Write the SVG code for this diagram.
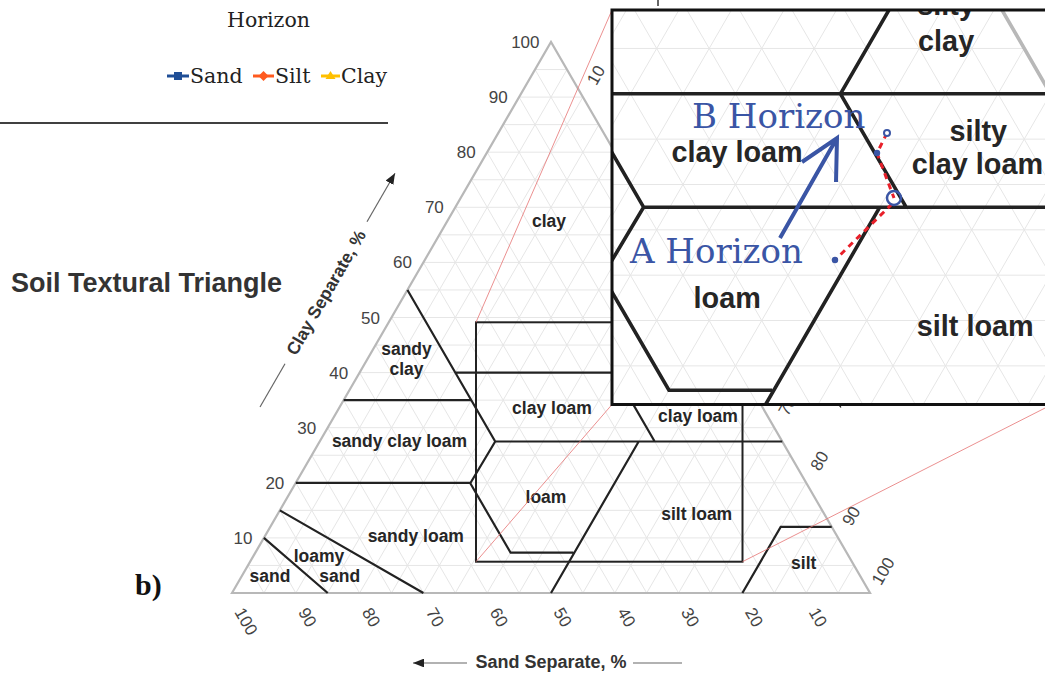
<svg xmlns="http://www.w3.org/2000/svg" xmlns:xlink="http://www.w3.org/1999/xlink" width="1045" height="675" viewBox="0 0 1045 675">
<defs>
<style>
.grid{fill:none;stroke:#e6e6e6;stroke-width:1;vector-effect:non-scaling-stroke}
.edge{fill:none;stroke:#b8b8b8;stroke-width:2.2}
.bnd{fill:none;stroke:#222;stroke-width:2.2}
.zl{font-family:"Liberation Sans",Arial,sans-serif;font-weight:bold;font-size:17.5px;fill:#262626;text-anchor:middle}
.num{font-family:"Liberation Sans",Arial,sans-serif;font-size:17px;fill:#444}
.ttl{font-family:"Liberation Sans",Arial,sans-serif;font-weight:bold;font-size:17.5px;fill:#333}
.ser{font-family:"DejaVu Serif","Liberation Serif",serif;font-size:20.5px;fill:#222}
.hz{font-family:"DejaVu Serif","Liberation Serif",serif;font-size:34px;fill:#3a55a5}
.red{fill:none;stroke:#e67373;stroke-width:0.8}
.axl{fill:none;stroke:#666;stroke-width:1.2}
</style>
<marker id="ah" viewBox="0 0 10 8" refX="10" refY="4" markerWidth="11" markerHeight="8.8" markerUnits="userSpaceOnUse" orient="auto"><path d="M0 0L10 4L0 8z" fill="#222"/></marker>
<clipPath id="insetClip" clipPathUnits="userSpaceOnUse"><rect x="612" y="10" width="440" height="394.5"/></clipPath>
</defs>
<rect x="0" y="0" width="1045" height="675" fill="#fff"/>

<g id="chart-fragment">
<text class="ser" x="227" y="27">Horizon</text>
<line x1="167" y1="76" x2="189" y2="76" stroke="#1f4e96" stroke-width="3"/>
<rect x="174" y="72" width="8" height="8" fill="#1f4e96"/>
<text class="ser" x="190" y="83">Sand</text>
<line x1="253" y1="76" x2="274" y2="76" stroke="#ff5a1f" stroke-width="3"/>
<path d="M263.5 71L268.5 76L263.5 81L258.5 76z" fill="#ff5a1f"/>
<text class="ser" x="275" y="83">Silt</text>
<line x1="321" y1="76" x2="340" y2="76" stroke="#ffc000" stroke-width="3"/>
<path d="M330.5 71L335.5 79L325.5 79z" fill="#ffc000"/>
<text class="ser" x="341" y="83">Clay</text>
<line x1="0" y1="123" x2="388" y2="123" stroke="#404040" stroke-width="2"/>
<line x1="658" y1="0" x2="658" y2="6" stroke="#333" stroke-width="1.5"/>
</g>

<g id="triangle">
<path class="grid" d="M247.95 565.45H854.05M263.9 537.9H838.1M279.85 510.35H822.15M295.8 482.8H806.2M311.75 455.25H790.25M327.7 427.7H774.3M343.65 400.15H758.35M359.6 372.6H742.4M375.55 345.05H726.45M391.5 317.5H710.5M407.45 289.95H694.55M423.4 262.4H678.6M439.35 234.85H662.65M455.3 207.3H646.7M471.25 179.75H630.75M487.2 152.2H614.8M503.15 124.65H598.85M519.1 97.1H582.9M535.05 69.55H566.95
M263.9 593L247.95 565.45M295.8 593L263.9 537.9M327.7 593L279.85 510.35M359.6 593L295.8 482.8M391.5 593L311.75 455.25M423.4 593L327.7 427.7M455.3 593L343.65 400.15M487.2 593L359.6 372.6M519.1 593L375.55 345.05M551 593L391.5 317.5M582.9 593L407.45 289.95M614.8 593L423.4 262.4M646.7 593L439.35 234.85M678.6 593L455.3 207.3M710.5 593L471.25 179.75M742.4 593L487.2 152.2M774.3 593L503.15 124.65M806.2 593L519.1 97.1M838.1 593L535.05 69.55
M263.9 593L566.95 69.55M295.8 593L582.9 97.1M327.7 593L598.85 124.65M359.6 593L614.8 152.2M391.5 593L630.75 179.75M423.4 593L646.7 207.3M455.3 593L662.65 234.85M487.2 593L678.6 262.4M519.1 593L694.55 289.95M551 593L710.5 317.5M582.9 593L726.45 345.05M614.8 593L742.4 372.6M646.7 593L758.35 400.15M678.6 593L774.3 427.7M710.5 593L790.25 455.25M742.4 593L806.2 482.8M774.3 593L822.15 510.35M806.2 593L838.1 537.9M838.1 593L854.05 565.45"/>
<path class="edge" d="M232 593L551 42L870 593z"/>
<path class="bnd" d="M327.7 593L263.9 537.9M423.4 593L279.85 510.35M295.8 482.8H470.5M470.3 483.3L495.2 441.5L407.45 289.95M343.65 400.15H471.25M455.3 372.6H742.4M495.2 441.5H782.3M614.8 372.6L654.7 441.5M614.8 372.6L678.6 262.4M470.3 483.3L510.6 552.7H573.3M638.7 441.5L551 593M742.4 593L780.7 526.9H831.7"/>
<text class="zl" x="549" y="227">clay</text>
<text class="zl" x="406.5" y="355">sandy</text>
<text class="zl" x="406.5" y="375">clay</text>
<text class="zl" x="399.5" y="447">sandy clay loam</text>
<text class="zl" x="552" y="414">clay loam</text>
<text class="zl" x="679" y="325">silty</text>
<text class="zl" x="679" y="346.5">clay</text>
<text class="zl" x="698.5" y="401">silty</text>
<text class="zl" x="698" y="421.5">clay loam</text>
<text class="zl" x="546" y="503">loam</text>
<text class="zl" x="696.7" y="520">silt loam</text>
<text class="zl" x="415.8" y="541.7">sandy loam</text>
<text class="zl" x="319" y="561.7">loamy</text>
<text class="zl" x="339.7" y="581.7">sand</text>
<text class="zl" x="270" y="581.7">sand</text>
<text class="zl" x="803.7" y="569">silt</text>
</g>

<g id="zoom-box">
<rect x="476" y="322.3" width="266.5" height="239.4" fill="none" stroke="#222" stroke-width="2"/>
<path class="red" d="M476 322.3L612 10M476 561.7L612 404.5M742.5 561.7L1052 404.5M742.5 322.3L1052 10"/>
</g>

<g id="axes">
<g class="num" text-anchor="end">
<text x="252.4" y="543.9">10</text>
<text x="284.3" y="488.8">20</text>
<text x="316.2" y="433.7">30</text>
<text x="348.1" y="378.6">40</text>
<text x="380" y="323.5">50</text>
<text x="411.9" y="268.4">60</text>
<text x="443.8" y="213.3">70</text>
<text x="475.7" y="158.2">80</text>
<text x="507.6" y="103.1">90</text>
<text x="539.5" y="48">100</text>
</g>
<g class="num">
<text x="234" y="612" transform="rotate(60 234 612)">100</text>
<text x="297.8" y="612" transform="rotate(60 297.8 612)">90</text>
<text x="361.6" y="612" transform="rotate(60 361.6 612)">80</text>
<text x="425.4" y="612" transform="rotate(60 425.4 612)">70</text>
<text x="489.2" y="612" transform="rotate(60 489.2 612)">60</text>
<text x="553" y="612" transform="rotate(60 553 612)">50</text>
<text x="616.8" y="612" transform="rotate(60 616.8 612)">40</text>
<text x="680.6" y="612" transform="rotate(60 680.6 612)">30</text>
<text x="744.4" y="612" transform="rotate(60 744.4 612)">20</text>
<text x="808.2" y="612" transform="rotate(60 808.2 612)">10</text>
</g>
<g class="num" text-anchor="middle">
<text x="601.1" y="78.1" transform="rotate(-60 601.1 78.1)">10</text>
<text x="792.5" y="408.7" transform="rotate(-60 792.5 408.7)">70</text>
<text x="824.4" y="463.8" transform="rotate(-60 824.4 463.8)">80</text>
<text x="856.3" y="518.9" transform="rotate(-60 856.3 518.9)">90</text>
<text x="888.2" y="574" transform="rotate(-60 888.2 574)">100</text>
</g>
<text class="ttl" x="331.2" y="295.5" text-anchor="middle" transform="rotate(-60 331.2 295.5)">Clay Separate, %</text>
<text class="ttl" x="551" y="668" text-anchor="middle" style="font-size:18px">Sand Separate, %</text>
<text x="11" y="292" style="font-family:'Liberation Sans',Arial,sans-serif;font-weight:bold;font-size:27px;fill:#333">Soil Textural Triangle</text>
<text x="135" y="595" style="font-family:'Liberation Serif','Times New Roman',serif;font-weight:bold;font-size:30px;fill:#111">b)</text>
</g>

<g id="connectors">
<line class="axl" x1="260" y1="407" x2="285" y2="363.7"/>
<line class="axl" x1="367" y1="221.7" x2="395" y2="173.2" marker-end="url(#ah)"/>
<line class="axl" x1="682" y1="663" x2="633" y2="663"/>
<line class="axl" x1="467" y1="663" x2="413" y2="663" marker-end="url(#ah)"/>
<line class="axl" x1="806" y1="347" x2="841" y2="407.6" marker-end="url(#ah)"/>
</g>

<g id="inset">
<g clip-path="url(#insetClip)">
<rect x="612" y="10" width="440" height="394.5" fill="#fff"/>
<use xlink:href="#triangle" href="#triangle" transform="translate(612 11) scale(1.646) translate(-476 -322.3)"/>
<path d="M887 133L877 153L894 198M892 204L835 260" fill="none" stroke="#e8202a" stroke-width="3" stroke-dasharray="6 5"/>
<circle cx="887" cy="133" r="3" fill="#fff" stroke="#3a55a5" stroke-width="2"/>
<circle cx="877" cy="153" r="3.2" fill="#3a55a5"/>
<circle cx="835" cy="260" r="3.2" fill="#3a55a5"/>
<circle cx="894" cy="198" r="7" fill="none" stroke="#3a55a5" stroke-width="2.5"/>
<path d="M780 238L837 138M802 162L837 138L836 182" fill="none" stroke="#3a55a5" stroke-width="4" stroke-linejoin="miter"/>
<text class="hz" x="692" y="128">B Horizon</text>
<text class="hz" x="630" y="263">A Horizon</text>
</g>
<rect x="612" y="10" width="440" height="394.5" fill="none" stroke="#111" stroke-width="3"/>
</g>
</svg>
